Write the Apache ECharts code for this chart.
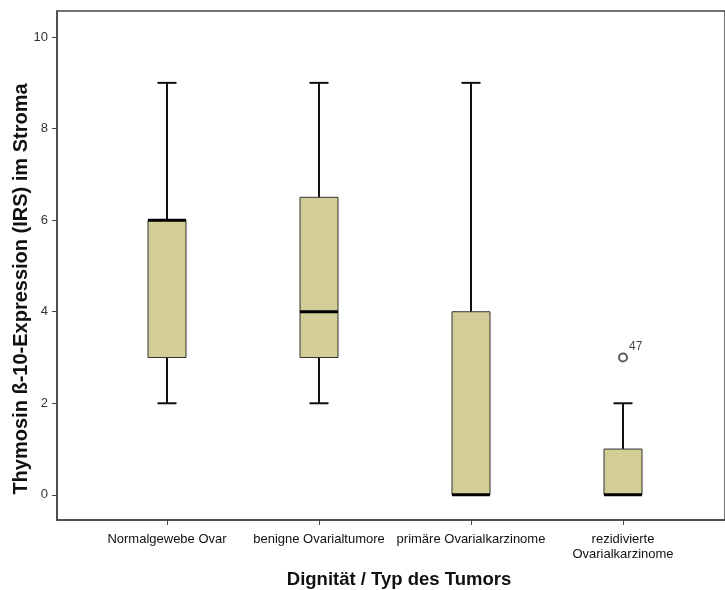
<!DOCTYPE html>
<html>
<head>
<meta charset="utf-8">
<script src="https://cdn.jsdelivr.net/npm/echarts@6/dist/echarts.min.js"></script>
<style>
html,body{margin:0;padding:0;background:#fff;}
#chart{width:725px;height:590px;}
</style>
</head>
<body>
<div id="chart"></div>
<script>
var categories = ['Normalgewebe Ovar', 'benigne Ovarialtumore', 'primäre Ovarialkarzinome', 'rezidivierte\nOvarialkarzinome'];
var whiskerLow = [2, 2, 0, 0];
var q1 = [3, 3, 0, 0];
var medians = [6, 4, 0, 0];
var q3 = [6, 6.5, 4, 1];
var whiskerHigh = [9, 9, 9, 2];
var outlierCategory = [3];
var outlierValue = [3];
var outlierLabel = ['47'];
var yTicks = [0, 2, 4, 6, 8, 10];

var yMin = -0.55, yMax = 10.57;

var boxData = categories.map(function (c, i) {
  return [i, whiskerLow[i], q1[i], medians[i], q3[i], whiskerHigh[i]];
});
var outlierData = outlierCategory.map(function (c, i) {
  return { value: [c, outlierValue[i]], name: outlierLabel[i] };
});

var chart = echarts.init(document.getElementById('chart'), null, { renderer: 'canvas' });

function renderBox(params, api) {
  var x = api.value(0);
  var pLow = api.coord([x, api.value(1)]);
  var pQ1 = api.coord([x, api.value(2)]);
  var pMed = api.coord([x, api.value(3)]);
  var pQ3 = api.coord([x, api.value(4)]);
  var pHigh = api.coord([x, api.value(5)]);
  var cx = pLow[0];
  var hw = 19, cw = 9.5;
  var children = [];
  children.push({ type: 'line', shape: { x1: cx, y1: pQ1[1], x2: cx, y2: pLow[1] }, style: { stroke: '#111', lineWidth: 2 } });
  children.push({ type: 'line', shape: { x1: cx, y1: pQ3[1], x2: cx, y2: pHigh[1] }, style: { stroke: '#111', lineWidth: 2 } });
  children.push({ type: 'line', shape: { x1: cx - cw, y1: pLow[1], x2: cx + cw, y2: pLow[1] }, style: { stroke: '#111', lineWidth: 2 } });
  children.push({ type: 'line', shape: { x1: cx - cw, y1: pHigh[1], x2: cx + cw, y2: pHigh[1] }, style: { stroke: '#111', lineWidth: 2 } });
  children.push({ type: 'rect', shape: { x: cx - hw, y: pQ3[1], width: 2 * hw, height: pQ1[1] - pQ3[1] }, style: { fill: '#D3CE97', stroke: '#333', lineWidth: 1 } });
  children.push({ type: 'line', shape: { x1: cx - hw, y1: pMed[1], x2: cx + hw, y2: pMed[1] }, style: { stroke: '#000', lineWidth: 3 } });
  return { type: 'group', children: children };
}

var option = {
  animation: false,
  backgroundColor: '#fff',
  grid: [
    { left: 57, top: 11, width: 720, height: 509, show: true, borderColor: '#444', borderWidth: 1.5, backgroundColor: 'transparent' },
    { left: 91, top: 11, width: 608, height: 509 }
  ],
  xAxis: [
    { gridIndex: 0, type: 'value', min: 0, max: 1, axisLine: { show: true, onZero: false, lineStyle: { color: '#444', width: 1.5 } }, axisTick: { show: false }, axisLabel: { show: false }, splitLine: { show: false } },
    { gridIndex: 1, type: 'category', data: categories, boundaryGap: true,
      axisLine: { show: false, onZero: false },
      axisTick: { show: true, alignWithLabel: true, length: 5, lineStyle: { color: '#444', width: 1 } },
      axisLabel: { show: true, interval: 0, margin: 12, color: '#111', fontFamily: 'Liberation Sans, Arial, sans-serif', fontSize: 13, lineHeight: 15 },
      splitLine: { show: false } }
  ],
  yAxis: [
    { gridIndex: 0, type: 'value', min: yMin, max: yMax,
      axisLine: { show: true, onZero: false, lineStyle: { color: '#444', width: 1.5 } },
      axisTick: { show: true, length: 5, customValues: yTicks, lineStyle: { color: '#444', width: 1 } },
      axisLabel: { show: true, customValues: yTicks, margin: 9, color: '#333', fontFamily: 'Liberation Sans, Arial, sans-serif', fontSize: 13 },
      splitLine: { show: false } },
    { gridIndex: 1, type: 'value', min: yMin, max: yMax, show: false }
  ],
  graphic: [
    { type: 'text', x: 21, y: 289, rotation: Math.PI / 2,
      style: { text: 'Thymosin ß-10-Expression (IRS) im Stroma', fill: '#111', font: 'bold 20px "Liberation Sans", Arial, sans-serif', align: 'center', verticalAlign: 'middle' } },
    { type: 'text', x: 399, y: 580,
      style: { text: 'Dignität / Typ des Tumors', fill: '#111', font: 'bold 18.5px "Liberation Sans", Arial, sans-serif', align: 'center', verticalAlign: 'middle' } }
  ],
  series: [
    { type: 'custom', xAxisIndex: 1, yAxisIndex: 1, renderItem: renderBox, data: boxData, encode: { x: 0, y: [1, 2, 3, 4, 5] }, silent: true },
    { type: 'scatter', xAxisIndex: 1, yAxisIndex: 1, data: outlierData, symbol: 'emptyCircle', symbolSize: 8,
      itemStyle: { color: '#333', borderColor: '#333', borderWidth: 1.5 },
      label: { show: true, position: 'right', distance: 1, offset: [0, -11], color: '#111', fontFamily: 'Liberation Sans, Arial, sans-serif', fontSize: 12,
        formatter: function (p) { return p.name; } } }
  ]
};
chart.setOption(option);
</script>
</body>
</html>
